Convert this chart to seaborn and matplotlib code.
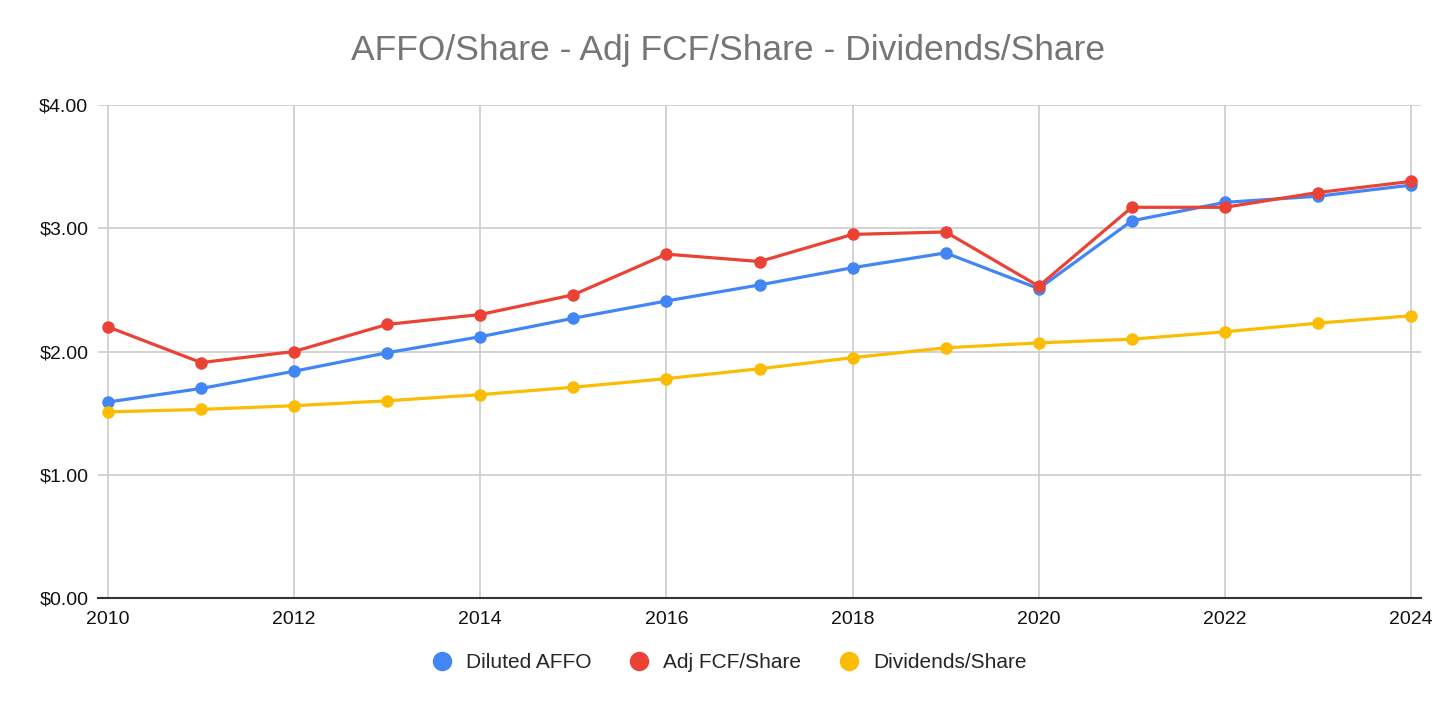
import pandas as pd
import seaborn as sns
import numpy as np
import matplotlib.pyplot as plt
from matplotlib.lines import Line2D

years = list(range(2010, 2025))
diluted_affo = [1.59, 1.70, 1.84, 1.99, 2.12, 2.27, 2.41, 2.54, 2.68, 2.80, 2.51, 3.06, 3.21, 3.26, 3.35]
adj_fcf = [2.20, 1.91, 2.00, 2.22, 2.30, 2.46, 2.79, 2.73, 2.95, 2.97, 2.53, 3.17, 3.17, 3.29, 3.38]
dividends = [1.51, 1.53, 1.56, 1.60, 1.65, 1.71, 1.78, 1.86, 1.95, 2.03, 2.07, 2.10, 2.16, 2.23, 2.29]
series_names = ['Diluted AFFO', 'Adj FCF/Share', 'Dividends/Share']
colors = ['#4285F4', '#EA4335', '#FBBC04']

df = pd.DataFrame({'year': years,
                   series_names[0]: diluted_affo,
                   series_names[1]: adj_fcf,
                   series_names[2]: dividends})
df = df.melt(id_vars='year', var_name='series', value_name='value')

sns.set_theme(style='white')
plt.rcParams['font.family'] = ['Liberation Sans', 'DejaVu Sans']

fig = plt.figure(figsize=(14.56, 7.10), dpi=100)
# plot area runs from x=98 to 1421 px, with 2010/2024 slightly inset
ax = fig.add_axes([98 / 1456, 112 / 710, 1323 / 1456, 493 / 710])

sns.lineplot(data=df, x='year', y='value', hue='series', hue_order=series_names,
             palette=colors, marker='o', markersize=9, markeredgewidth=0,
             linewidth=2.3, ax=ax, legend=False, zorder=3)

pad = 10 / 93.2
ax.set_xlim(2010 - pad, 2024 + pad)
ax.set_ylim(0, 4)
ax.set_xticks(range(2010, 2025, 2))
ax.set_yticks([0, 1, 2, 3, 4])
ax.set_yticklabels(['$%.2f' % v for v in [0, 1, 2, 3, 4]])
ax.grid(True, color='#cccccc', linewidth=1.2)
ax.set_axisbelow(True)
for s in ['top', 'right', 'left']:
    ax.spines[s].set_visible(False)
ax.spines['bottom'].set_color('#333333')
ax.spines['bottom'].set_linewidth(1.5)
ax.spines['bottom'].set_zorder(4)
ax.tick_params(axis='both', length=0, labelsize=14, colors='#111111')
ax.tick_params(axis='x', pad=9)
ax.tick_params(axis='y', pad=7)
ax.set_xlabel('')
ax.set_ylabel('')

fig.text(0.5, 0.929, 'AFFO/Share - Adj FCF/Share - Dividends/Share',
         ha='center', va='center', fontsize=25.5, color='#757575')

handles = [Line2D([], [], linestyle='none', marker='o', markersize=14,
                  markerfacecolor=c, markeredgewidth=0) for c in colors]
fig.legend(handles, series_names, loc='center', bbox_to_anchor=(0.5, 0.067),
           ncol=3, frameon=False, fontsize=15, handletextpad=0.55,
           columnspacing=1.7, handlelength=1.2)

fig.savefig('out.png', dpi=100)
